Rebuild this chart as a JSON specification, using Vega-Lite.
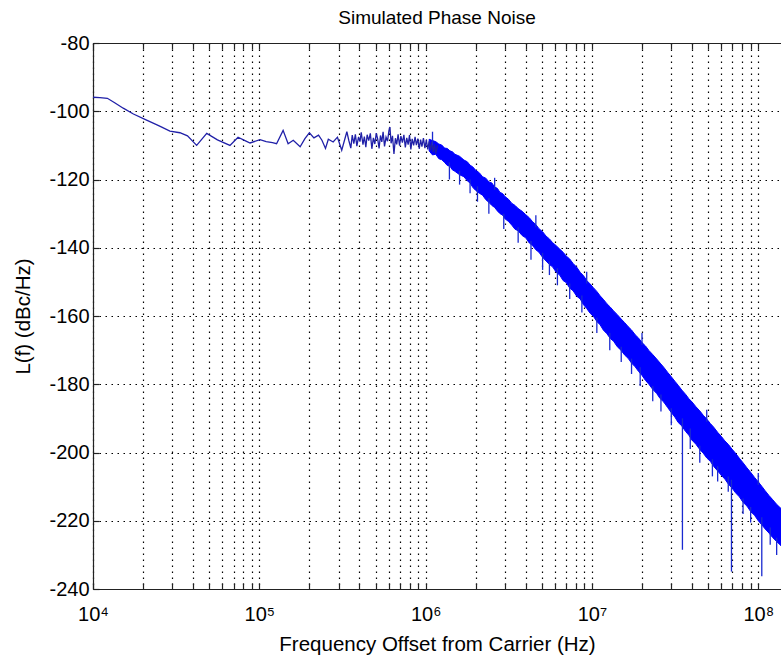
{
  "$schema": "https://vega.github.io/schema/vega-lite/v6.json",
  "width": 688,
  "height": 546,
  "autosize": {"type": "none"},
  "padding": {"left": 93, "top": 43, "right": 0, "bottom": 70},
  "background": "white",
  "title": {"text": "Simulated Phase Noise", "font": "Liberation Sans", "fontSize": 19, "fontWeight": "normal", "color": "black", "offset": 5, "anchor": "middle"},
  "config": {
    "view": {"stroke": null},
    "axis": {
      "labelFont": "Liberation Sans", "labelFontSize": 20, "labelColor": "black",
      "titleFont": "Liberation Sans", "titleFontSize": 20.5, "titleFontWeight": "normal", "titleColor": "black",
      "domainColor": "#222222", "domainWidth": 1.2, "tickColor": "#222222", "tickWidth": 1.2,
      "gridColor": "#000000", "gridDash": [1.5, 4.5], "gridOpacity": 1, "gridWidth": 1.2
    }
  },
  "datasets": {
    "line": [
      {"f": 10000, "v": -95.9}, {"f": 11000, "v": -96.0}, {"f": 12200, "v": -96.2}, {"f": 13500, "v": -97.5},
      {"f": 15200, "v": -99.1}, {"f": 17500, "v": -100.8}, {"f": 21000, "v": -102.6}, {"f": 25000, "v": -104.3},
      {"f": 29000, "v": -105.8}, {"f": 33300, "v": -106.3}, {"f": 37000, "v": -107.2}, {"f": 42000, "v": -110.0},
      {"f": 48300, "v": -106.5}, {"f": 56000, "v": -108.4}, {"f": 66600, "v": -110.0}, {"f": 74500, "v": -107.6},
      {"f": 82000, "v": -108.6}, {"f": 88000, "v": -109.3}, {"f": 101000, "v": -108.3}, {"f": 110000, "v": -108.9},
      {"f": 120000, "v": -109.2}, {"f": 127000, "v": -109.5}, {"f": 139000, "v": -105.6}, {"f": 149000, "v": -109.5},
      {"f": 160000, "v": -108.5}, {"f": 176000, "v": -110.4}, {"f": 188000, "v": -108.0}, {"f": 200000, "v": -106.3},
      {"f": 213000, "v": -107.8}, {"f": 227000, "v": -107.0}, {"f": 238000, "v": -108.5}, {"f": 250000, "v": -110.9},
      {"f": 260000, "v": -108.2}, {"f": 278000, "v": -109.0}, {"f": 295000, "v": -107.6}, {"f": 313000, "v": -111.4},
      {"f": 336000, "v": -106.0}, {"f": 345000, "v": -108.5}, {"f": 355000, "v": -110.8}, {"f": 362000, "v": -107.0},
      {"f": 370000, "v": -109.5}, {"f": 378000, "v": -106.8}, {"f": 386000, "v": -110.2}, {"f": 395000, "v": -107.5},
      {"f": 403000, "v": -108.9}, {"f": 410000, "v": -106.2}, {"f": 420000, "v": -109.8}, {"f": 428000, "v": -107.4},
      {"f": 437000, "v": -110.5}, {"f": 445000, "v": -106.9}, {"f": 455000, "v": -108.6}, {"f": 465000, "v": -106.5},
      {"f": 475000, "v": -111.0}, {"f": 485000, "v": -107.8}, {"f": 495000, "v": -109.6}, {"f": 505000, "v": -106.4},
      {"f": 515000, "v": -108.2}, {"f": 525000, "v": -110.9}, {"f": 535000, "v": -107.1}, {"f": 545000, "v": -109.0},
      {"f": 555000, "v": -106.0}, {"f": 566000, "v": -110.3}, {"f": 578000, "v": -107.6}, {"f": 590000, "v": -108.8},
      {"f": 602000, "v": -105.6}, {"f": 610000, "v": -104.6}, {"f": 620000, "v": -109.4}, {"f": 632000, "v": -107.2},
      {"f": 645000, "v": -112.5}, {"f": 658000, "v": -107.9}, {"f": 670000, "v": -109.7}, {"f": 683000, "v": -106.8},
      {"f": 697000, "v": -110.1}, {"f": 710000, "v": -107.3}, {"f": 725000, "v": -109.2}, {"f": 740000, "v": -106.9},
      {"f": 755000, "v": -110.6}, {"f": 770000, "v": -107.8}, {"f": 785000, "v": -109.8}, {"f": 800000, "v": -107.0},
      {"f": 815000, "v": -111.2}, {"f": 830000, "v": -108.1}, {"f": 847000, "v": -110.0}, {"f": 864000, "v": -107.5},
      {"f": 880000, "v": -109.9}, {"f": 898000, "v": -108.0}, {"f": 915000, "v": -111.0}, {"f": 933000, "v": -108.3},
      {"f": 950000, "v": -110.4}, {"f": 970000, "v": -107.9}, {"f": 990000, "v": -110.8}, {"f": 1010000, "v": -108.4},
      {"f": 1030000, "v": -111.2}, {"f": 1050000, "v": -108.8}, {"f": 1070000, "v": -111.5}, {"f": 1090000, "v": -109.0},
      {"f": 1110000, "v": -112.0}, {"f": 1130000, "v": -109.6}, {"f": 1150000, "v": -112.4}, {"f": 1180000, "v": -110.0}
    ],
    "band": [
      {"f": 1050000, "hi": -108.2, "lo": -111.6}, {"f": 1100000, "hi": -108.6, "lo": -112.8}, {"f": 1150000, "hi": -108.9, "lo": -112.6},
      {"f": 1200000, "hi": -109.6, "lo": -113.9}, {"f": 1250000, "hi": -109.9, "lo": -114.2}, {"f": 1300000, "hi": -110.8, "lo": -115.0},
      {"f": 1350000, "hi": -110.9, "lo": -115.9}, {"f": 1400000, "hi": -111.6, "lo": -116.1}, {"f": 1450000, "hi": -111.9, "lo": -117.2},
      {"f": 1500000, "hi": -112.6, "lo": -117.6}, {"f": 1600000, "hi": -113.2, "lo": -118.6}, {"f": 1700000, "hi": -114.3, "lo": -119.2},
      {"f": 1780000, "hi": -114.8, "lo": -120.4}, {"f": 1850000, "hi": -115.8, "lo": -121.0}, {"f": 1920000, "hi": -116.3, "lo": -122.3},
      {"f": 2000000, "hi": -117.3, "lo": -123.2}, {"f": 2100000, "hi": -118.0, "lo": -124.0}, {"f": 2200000, "hi": -119.2, "lo": -124.6},
      {"f": 2300000, "hi": -119.6, "lo": -125.9}, {"f": 2400000, "hi": -120.7, "lo": -126.7}, {"f": 2500000, "hi": -121.0, "lo": -127.6},
      {"f": 2600000, "hi": -122.2, "lo": -128.2}, {"f": 2700000, "hi": -122.6, "lo": -129.2}, {"f": 2800000, "hi": -123.8, "lo": -130.0},
      {"f": 2900000, "hi": -124.1, "lo": -130.4}, {"f": 3000000, "hi": -125.0, "lo": -131.5}, {"f": 3150000, "hi": -125.8, "lo": -132.3},
      {"f": 3300000, "hi": -127.0, "lo": -133.4}, {"f": 3450000, "hi": -127.6, "lo": -134.6}, {"f": 3600000, "hi": -128.5, "lo": -135.0},
      {"f": 3800000, "hi": -129.3, "lo": -136.4}, {"f": 4000000, "hi": -130.3, "lo": -137.1}, {"f": 4200000, "hi": -131.2, "lo": -138.6},
      {"f": 4400000, "hi": -132.4, "lo": -139.4}, {"f": 4600000, "hi": -133.2, "lo": -140.6}, {"f": 4800000, "hi": -134.4, "lo": -141.3},
      {"f": 5050000, "hi": -135.3, "lo": -142.8}, {"f": 5300000, "hi": -136.6, "lo": -143.9}, {"f": 5550000, "hi": -137.4, "lo": -144.9},
      {"f": 5800000, "hi": -138.5, "lo": -145.6}, {"f": 6100000, "hi": -139.4, "lo": -147.2}, {"f": 6400000, "hi": -140.4, "lo": -148.0},
      {"f": 6700000, "hi": -141.3, "lo": -149.6}, {"f": 7000000, "hi": -142.4, "lo": -150.2}, {"f": 7350000, "hi": -143.3, "lo": -151.8},
      {"f": 7700000, "hi": -144.6, "lo": -152.6}, {"f": 8100000, "hi": -145.7, "lo": -154.2}, {"f": 8500000, "hi": -147.2, "lo": -155.0},
      {"f": 8900000, "hi": -148.2, "lo": -156.7}, {"f": 9300000, "hi": -149.6, "lo": -157.8}, {"f": 9750000, "hi": -150.6, "lo": -159.2},
      {"f": 10200000, "hi": -151.7, "lo": -160.1}, {"f": 10700000, "hi": -152.8, "lo": -161.6}, {"f": 11200000, "hi": -154.1, "lo": -162.6},
      {"f": 11700000, "hi": -155.1, "lo": -164.1}, {"f": 12300000, "hi": -156.4, "lo": -165.2}, {"f": 12900000, "hi": -157.4, "lo": -166.6},
      {"f": 13500000, "hi": -158.5, "lo": -167.4}, {"f": 14200000, "hi": -159.6, "lo": -169.0}, {"f": 15000000, "hi": -160.9, "lo": -170.1},
      {"f": 15700000, "hi": -161.9, "lo": -171.4}, {"f": 16500000, "hi": -163.1, "lo": -172.4}, {"f": 17300000, "hi": -164.1, "lo": -173.8},
      {"f": 18200000, "hi": -165.5, "lo": -174.9}, {"f": 19100000, "hi": -166.5, "lo": -176.3}, {"f": 20000000, "hi": -167.8, "lo": -177.4},
      {"f": 21000000, "hi": -168.8, "lo": -178.9}, {"f": 22000000, "hi": -170.1, "lo": -180.0}, {"f": 23200000, "hi": -171.3, "lo": -181.5},
      {"f": 24500000, "hi": -172.6, "lo": -182.7}, {"f": 25700000, "hi": -173.8, "lo": -184.2}, {"f": 27000000, "hi": -175.0, "lo": -185.2},
      {"f": 28500000, "hi": -176.5, "lo": -186.8}, {"f": 30000000, "hi": -177.8, "lo": -188.3}, {"f": 31500000, "hi": -179.1, "lo": -189.6},
      {"f": 33000000, "hi": -180.3, "lo": -191.2}, {"f": 34700000, "hi": -181.7, "lo": -192.2}, {"f": 36500000, "hi": -182.9, "lo": -193.8},
      {"f": 38200000, "hi": -184.2, "lo": -194.9}, {"f": 40000000, "hi": -185.2, "lo": -196.4}, {"f": 42200000, "hi": -186.6, "lo": -197.6},
      {"f": 44500000, "hi": -187.8, "lo": -199.1}, {"f": 46700000, "hi": -189.1, "lo": -200.2}, {"f": 49000000, "hi": -190.2, "lo": -201.6},
      {"f": 51500000, "hi": -191.5, "lo": -202.6}, {"f": 54000000, "hi": -192.6, "lo": -204.1}, {"f": 57000000, "hi": -194.1, "lo": -205.4},
      {"f": 60000000, "hi": -195.3, "lo": -206.7}, {"f": 63000000, "hi": -196.6, "lo": -207.8}, {"f": 66000000, "hi": -197.6, "lo": -209.2},
      {"f": 69500000, "hi": -199.0, "lo": -210.4}, {"f": 73000000, "hi": -200.2, "lo": -211.8}, {"f": 77000000, "hi": -201.7, "lo": -213.0},
      {"f": 81000000, "hi": -203.0, "lo": -214.6}, {"f": 85500000, "hi": -204.5, "lo": -215.7}, {"f": 90000000, "hi": -205.8, "lo": -217.3},
      {"f": 95000000, "hi": -207.3, "lo": -218.4}, {"f": 100000000, "hi": -208.6, "lo": -220.0}, {"f": 105000000, "hi": -209.9, "lo": -221.2},
      {"f": 110000000, "hi": -211.2, "lo": -222.4}, {"f": 116000000, "hi": -212.6, "lo": -223.6}, {"f": 122000000, "hi": -213.8, "lo": -224.9},
      {"f": 129000000, "hi": -215.2, "lo": -226.1}, {"f": 137000000, "hi": -216.4, "lo": -227.3}
    ],
    "spikes": [
      {"f": 1390000, "top": -115, "bottom": -120}, {"f": 2050000, "top": -122, "bottom": -126.5},
      {"f": 2950000, "top": -130, "bottom": -134.5}, {"f": 4300000, "top": -138, "bottom": -143.5},
      {"f": 6200000, "top": -146, "bottom": -151}, {"f": 8700000, "top": -154, "bottom": -159},
      {"f": 12800000, "top": -165, "bottom": -170}, {"f": 19500000, "top": -175, "bottom": -180.5},
      {"f": 26000000, "top": -183, "bottom": -188}, {"f": 35000000, "top": -190, "bottom": -228.5},
      {"f": 39000000, "top": -193, "bottom": -199}, {"f": 53000000, "top": -202, "bottom": -207},
      {"f": 66000000, "top": -207, "bottom": -211.5}, {"f": 69000000, "top": -208, "bottom": -234.9},
      {"f": 105000000, "top": -219, "bottom": -236.3}, {"f": 118000000, "top": -222, "bottom": -227},
      {"f": 1600000, "top": -117.5, "bottom": -121.5}, {"f": 1850000, "top": -120, "bottom": -124},
      {"f": 2400000, "top": -125.5, "bottom": -130}, {"f": 3600000, "top": -134, "bottom": -138.5},
      {"f": 5050000, "top": -141.5, "bottom": -146.5}, {"f": 5550000, "top": -144, "bottom": -148},
      {"f": 7350000, "top": -150.5, "bottom": -155}, {"f": 10700000, "top": -160.5, "bottom": -165},
      {"f": 15000000, "top": -169, "bottom": -173.5}, {"f": 17300000, "top": -172.5, "bottom": -177},
      {"f": 23200000, "top": -180.5, "bottom": -185}, {"f": 30000000, "top": -187, "bottom": -192},
      {"f": 44500000, "top": -198, "bottom": -203}, {"f": 57000000, "top": -204, "bottom": -208.5},
      {"f": 81000000, "top": -213.5, "bottom": -218}, {"f": 90000000, "top": -216, "bottom": -220.5},
      {"f": 129000000, "top": -225, "bottom": -230},
      {"f": 1100000, "top": -106, "bottom": -110}, {"f": 2600000, "top": -119.5, "bottom": -123},
      {"f": 4600000, "top": -130.5, "bottom": -134}, {"f": 9300000, "top": -147, "bottom": -150.5},
      {"f": 20000000, "top": -165, "bottom": -168.5}, {"f": 49000000, "top": -187.5, "bottom": -191},
      {"f": 100000000, "top": -206, "bottom": -209.5}
    ]
  },
  "layer": [
    {
      "data": {"name": "band"},
      "mark": {"type": "area", "color": "#0000ff", "opacity": 1, "stroke": "#0000ff", "strokeWidth": 1},
      "encoding": {
        "x": {
          "field": "f", "type": "quantitative",
          "scale": {"type": "log", "domain": [10000, 137000000], "nice": false},
          "axis": {
            "orient": "bottom",
            "values": [10000, 20000, 30000, 40000, 50000, 60000, 70000, 80000, 90000, 100000, 200000, 300000, 400000, 500000, 600000, 700000, 800000, 900000, 1000000, 2000000, 3000000, 4000000, 5000000, 6000000, 7000000, 8000000, 9000000, 10000000, 20000000, 30000000, 40000000, 50000000, 60000000, 70000000, 80000000, 90000000, 100000000],
            "labelExpr": "datum.value == 10000 ? '10⁴' : datum.value == 100000 ? '10⁵' : datum.value == 1000000 ? '10⁶' : datum.value == 10000000 ? '10⁷' : datum.value == 100000000 ? '10⁸' : ''",
            "labelOverlap": false, "labelFlush": false,
            "grid": true, "tickSize": -6, "labelPadding": 21, "labelBaseline": "top",
            "title": "Frequency Offset from Carrier (Hz)",
            "titleX": 344, "titleY": 61, "titleBaseline": "alphabetic", "titleAlign": "center"
          }
        },
        "y": {
          "field": "hi", "type": "quantitative",
          "scale": {"domain": [-240, -80], "nice": false, "zero": false},
          "axis": {
            "orient": "left",
            "values": [-240, -220, -200, -180, -160, -140, -120, -100, -80],
            "labelExpr": "'' + datum.value",
            "grid": true, "tickSize": -6, "labelPadding": 10,
            "title": "L(f) (dBc/Hz)",
            "titleX": -64, "titleY": 273, "titleBaseline": "alphabetic", "titleAlign": "center", "titleAngle": 270
          }
        },
        "y2": {"field": "lo"}
      }
    },
    {
      "data": {"name": "line"},
      "mark": {"type": "line", "color": "#2020a8", "strokeWidth": 1.3},
      "encoding": {
        "x": {
          "field": "f", "type": "quantitative",
          "axis": {
            "orient": "top",
            "values": [10000, 20000, 30000, 40000, 50000, 60000, 70000, 80000, 90000, 100000, 200000, 300000, 400000, 500000, 600000, 700000, 800000, 900000, 1000000, 2000000, 3000000, 4000000, 5000000, 6000000, 7000000, 8000000, 9000000, 10000000, 20000000, 30000000, 40000000, 50000000, 60000000, 70000000, 80000000, 90000000, 100000000],
            "labels": false, "grid": false, "tickSize": -6, "title": null
          }
        },
        "y": {"field": "v", "type": "quantitative", "axis": null}
      }
    },
    {
      "data": {"name": "spikes"},
      "mark": {"type": "rule", "color": "#1a2ad0", "strokeWidth": 1.3},
      "encoding": {
        "x": {"field": "f", "type": "quantitative", "axis": null},
        "y": {"field": "top", "type": "quantitative", "axis": null},
        "y2": {"field": "bottom"}
      }
    }
  ],
  "resolve": {"axis": {"x": "independent", "y": "independent"}}
}
